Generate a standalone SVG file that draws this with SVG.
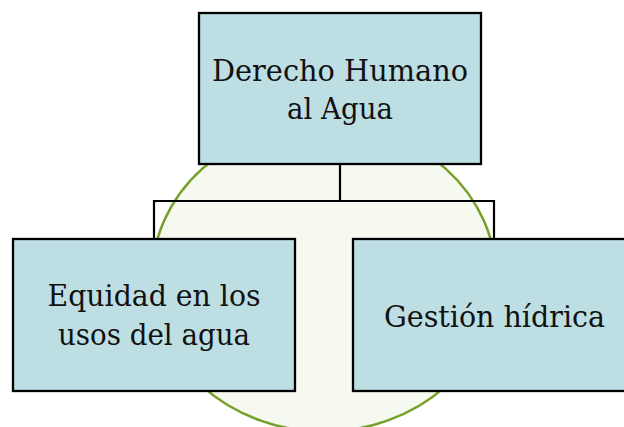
<svg xmlns="http://www.w3.org/2000/svg" width="624" height="427" viewBox="0 0 624 427">
<style>
.box{fill:#bddee3;stroke:#000;stroke-width:2.3}
.t{font-family:"DejaVu Serif","Liberation Serif",serif;font-size:30px;fill:#111;text-anchor:middle}
.c{stroke:#000;stroke-width:2.2;fill:none}
</style>
<rect width="624" height="427" fill="#fff"/>
<ellipse cx="324" cy="277.5" rx="172" ry="154" fill="#f6f9ef" stroke="#76a02a" stroke-width="2.5"/>
<g id="connectors">
<path class="c" d="M340 164V201M154 239V201H494V239"/>
</g>
<g id="n1">
<rect class="box" x="199" y="13" width="282" height="151"/>
<text class="t" x="340" y="81" textLength="256" lengthAdjust="spacingAndGlyphs">Derecho Humano</text>
<text class="t" x="340" y="119" textLength="106" lengthAdjust="spacingAndGlyphs">al Agua</text>
</g>
<g id="n2">
<rect class="box" x="13" y="239" width="282" height="152"/>
<text class="t" x="154" y="306" textLength="213" lengthAdjust="spacingAndGlyphs">Equidad en los</text>
<text class="t" x="154" y="345" textLength="192" lengthAdjust="spacingAndGlyphs">usos del agua</text>
</g>
<g id="n3">
<rect class="box" x="353" y="239" width="282" height="152"/>
<text class="t" x="494.5" y="327" textLength="221" lengthAdjust="spacingAndGlyphs">Gestión hídrica</text>
</g>
</svg>
